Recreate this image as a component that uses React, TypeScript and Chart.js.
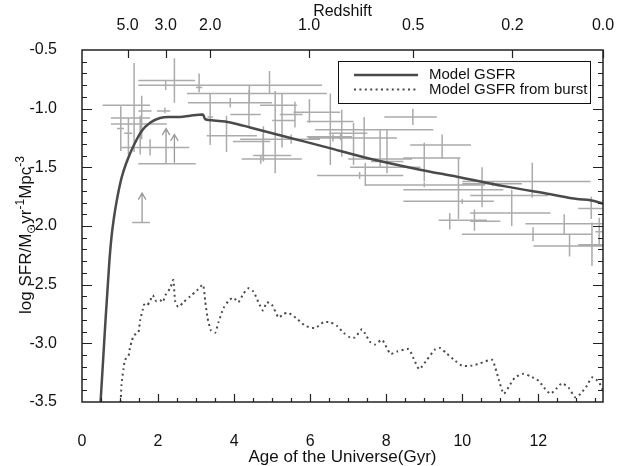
import React, { useEffect, useRef } from "react";
import { Chart, registerables } from "chart.js";

Chart.register(...registerables);

const FONT = "'Liberation Sans', Arial, Helvetica, sans-serif";

// Axis definitions
const ageMin = 0;
const ageMax = 13.7;
const sfrMin = -3.5;
const sfrMax = -0.5;
const ageTicks = [0, 2, 4, 6, 8, 10, 12];
const sfrTicks = [-3.5, -3.0, -2.5, -2.0, -1.5, -1.0, -0.5];
const redshiftLabels = ["5.0", "3.0", "2.0", "1.0", "0.5", "0.2", "0.0"];
const redshiftAges = [1.2, 2.2, 3.37, 5.97, 8.71, 11.32, 13.7];

// Model GSFR (solid)
const modelAge = [0.46, 0.49, 0.60, 0.72, 0.78, 0.84, 0.91, 1.04, 1.18, 1.35, 1.57, 1.79, 2.05, 2.27, 2.58, 2.84, 3.18, 3.24, 3.46, 3.76, 4.07, 4.42, 5.61, 6.44, 7.49, 8.89, 9.86, 11.09, 12.32, 13.02, 13.37, 13.72];
const modelSFR = [-3.62, -3.49, -2.90, -2.30, -2.08, -1.93, -1.79, -1.59, -1.45, -1.32, -1.19, -1.12, -1.08, -1.07, -1.07, -1.06, -1.05, -1.09, -1.10, -1.11, -1.13, -1.16, -1.26, -1.33, -1.42, -1.52, -1.58, -1.66, -1.73, -1.77, -1.78, -1.81];

// Model GSFR from burst (dotted)
const burstAge = [1.01, 1.04, 1.09, 1.13, 1.22, 1.26, 1.31, 1.37, 1.48, 1.53, 1.60, 1.63, 1.70, 1.79, 1.86, 1.95, 2.05, 2.12, 2.21, 2.32, 2.40, 2.45, 2.53, 2.67, 2.84, 3.02, 3.18, 3.24, 3.30, 3.39, 3.50, 3.59, 3.72, 3.85, 3.98, 4.11, 4.24, 4.38, 4.51, 4.64, 4.76, 4.86, 4.99, 5.17, 5.30, 5.43, 5.65, 5.87, 6.13, 6.35, 6.53, 6.70, 6.88, 7.05, 7.18, 7.36, 7.45, 7.58, 7.71, 7.89, 8.11, 8.28, 8.59, 8.72, 8.87, 9.07, 9.29, 9.42, 9.60, 9.82, 9.99, 10.26, 10.47, 10.78, 10.87, 10.96, 11.09, 11.26, 11.39, 11.61, 11.79, 12.01, 12.18, 12.32, 12.49, 12.62, 12.80, 12.97, 13.11, 13.28, 13.41, 13.59, 13.72];
const burstSFR = [-3.55, -3.35, -3.22, -3.14, -3.11, -3.04, -2.98, -2.93, -2.91, -2.80, -2.71, -2.67, -2.68, -2.64, -2.59, -2.64, -2.63, -2.65, -2.58, -2.53, -2.46, -2.64, -2.69, -2.65, -2.60, -2.55, -2.50, -2.64, -2.78, -2.89, -2.91, -2.82, -2.70, -2.64, -2.61, -2.65, -2.58, -2.53, -2.56, -2.65, -2.72, -2.65, -2.67, -2.78, -2.75, -2.74, -2.79, -2.85, -2.87, -2.82, -2.82, -2.85, -2.91, -2.95, -2.95, -2.88, -2.92, -2.99, -3.01, -2.97, -3.09, -3.07, -3.05, -3.13, -3.22, -3.14, -3.05, -3.04, -3.09, -3.15, -3.19, -3.19, -3.17, -3.14, -3.21, -3.31, -3.43, -3.35, -3.29, -3.26, -3.28, -3.32, -3.39, -3.43, -3.38, -3.34, -3.38, -3.46, -3.43, -3.36, -3.29, -3.33, -3.42];

// Observations (with error bars)
const obsAge =   [1.37, 1.02, 1.02, 1.22, 1.53, 1.57, 1.79, 2.43, 2.20, 3.08, 4.93, 4.40, 3.90, 3.37, 3.80, 4.39, 4.76, 4.70, 2.18, 5.08, 5.26, 5.50, 4.77, 5.08, 5.60, 5.98, 6.53, 6.80, 6.60, 6.83, 7.14, 7.42, 7.84, 8.02, 7.30, 7.45, 8.70, 9.47, 9.00, 9.90, 10.00, 11.84, 10.80, 10.52, 11.30, 9.67, 10.32, 12.68, 11.86, 12.82, 13.39, 13.41, 13.60, 9.00];
const obsAgeLo = [0.54, 0.76, 0.92, 1.11, 0.76, 1.48, 1.04, 1.48, 1.48, 3.00, 2.76, 2.76, 2.79, 3.30, 3.28, 3.90, 3.97, 4.20, 1.97, 4.68, 5.00, 4.16, 4.20, 4.50, 5.20, 5.56, 5.91, 5.91, 5.95, 6.50, 6.13, 6.26, 7.00, 7.60, 6.18, 7.05, 7.95, 8.63, 8.45, 8.45, 8.45, 10.00, 10.00, 10.21, 10.21, 9.38, 10.21, 11.66, 9.99, 11.87, 13.05, 13.05, 13.50, 7.45];
const obsAgeHi = [1.79, 1.79, 1.10, 1.32, 2.23, 1.83, 2.82, 2.97, 2.97, 3.16, 6.31, 6.44, 5.00, 3.45, 4.60, 4.70, 4.95, 5.00, 2.32, 5.65, 5.60, 6.26, 5.78, 5.50, 5.80, 6.79, 7.14, 7.10, 7.14, 7.50, 9.24, 8.28, 8.68, 8.45, 8.45, 8.90, 9.33, 10.23, 9.95, 11.08, 10.83, 13.37, 11.57, 12.26, 12.32, 10.65, 11.00, 13.71, 13.41, 13.71, 13.71, 13.71, 13.70, 10.60];
const obsSFR =   [-0.97, -1.08, -1.17, -1.21, -1.13, -1.02, -1.33, -0.76, -0.80, -0.82, -0.80, -0.87, -0.95, -1.07, -1.23, -1.05, -1.28, -1.43, -1.02, -0.97, -1.10, -1.26, -1.43, -1.40, -1.05, -1.03, -1.11, -1.24, -1.25, -1.21, -1.18, -1.25, -1.43, -1.45, -1.57, -1.50, -1.07, -1.31, -1.42, -1.69, -1.79, -1.62, -1.64, -1.74, -1.89, -1.95, -1.96, -1.98, -2.07, -2.17, -1.85, -2.16, -2.05, -1.65];
const obsSFRLo = [-1.37, -1.36, -1.25, -1.39, -1.39, -1.26, -1.40, -0.95, -0.84, -0.86, -0.87, -0.95, -0.99, -1.31, -1.37, -1.16, -1.42, -1.47, -1.04, -1.36, -1.33, -1.30, -1.45, -1.55, -1.16, -1.12, -1.48, -1.27, -1.28, -1.41, -1.48, -1.43, -1.50, -1.55, -1.60, -1.66, -1.14, -1.43, -1.62, -1.94, -1.81, -1.76, -1.66, -1.84, -2.00, -2.03, -2.04, -2.07, -2.13, -2.26, -1.94, -2.34, -2.16, -1.67];
const obsSFRHi = [-0.61, -0.98, -1.12, -1.08, -1.06, -0.89, -1.26, -0.57, -0.76, -0.70, -0.68, -0.80, -0.91, -0.87, -1.06, -0.84, -1.22, -1.40, -0.99, -0.85, -0.87, -1.22, -1.15, -1.31, -0.94, -0.92, -0.87, -1.21, -1.22, -1.01, -1.12, -1.07, -1.18, -1.18, -1.54, -1.46, -1.00, -1.22, -1.29, -1.42, -1.77, -1.46, -1.62, -1.50, -1.69, -1.89, -1.86, -1.90, -2.01, -2.07, -1.75, -1.97, -1.93, -1.63];

// Lower limits (arrows)
const limAge =   [2.21, 2.43, 1.58];
const limAgeLo = [1.48, 2.43, 1.32];
const limAgeHi = [2.99, 2.43, 1.79];
const limSFR =   [-1.47, -1.46, -1.97];
const limSFRTip = [-1.17, -1.22, -1.72];

type P = { x: number; y: number | null };

function buildHBars(): P[] {
  const out: P[] = [];
  obsAge.forEach((_, i) => {
    out.push({ x: obsAgeLo[i], y: obsSFR[i] }, { x: obsAgeHi[i], y: obsSFR[i] }, { x: obsAgeHi[i], y: null });
  });
  limAge.forEach((_, i) => {
    if (limAgeHi[i] > limAgeLo[i]) {
      out.push({ x: limAgeLo[i], y: limSFR[i] }, { x: limAgeHi[i], y: limSFR[i] }, { x: limAgeHi[i], y: null });
    }
  });
  return out;
}

function buildVBars(): P[] {
  const out: P[] = [];
  obsAge.forEach((a, i) => {
    out.push({ x: a, y: obsSFRLo[i] }, { x: a, y: obsSFRHi[i] }, { x: a, y: null });
  });
  return out;
}

function buildArrows(): P[] {
  const out: P[] = [];
  const dx = 0.1;
  const dy = 0.055;
  limAge.forEach((a, i) => {
    out.push({ x: a, y: limSFR[i] }, { x: a, y: limSFRTip[i] }, { x: a, y: null });
    out.push({ x: a - dx, y: limSFRTip[i] - dy }, { x: a, y: limSFRTip[i] }, { x: a + dx, y: limSFRTip[i] - dy }, { x: a, y: null });
  });
  return out;
}

const frameTicks = {
  id: "frameTicks",
  afterDatasetsDraw(chart: any) {
    const { ctx, chartArea: a, scales } = chart;
    const xs = scales.x;
    const ys = scales.y;
    ctx.save();
    ctx.strokeStyle = "#222";
    ctx.lineWidth = 1.2;
    ctx.beginPath();
    for (let k = 1; k < 30; k++) {
      const v = sfrMin + k * 0.1;
      const py = Math.round(ys.getPixelForValue(v)) + 0.5;
      const len = k % 5 === 0 ? 10 : 5;
      ctx.moveTo(a.left, py);
      ctx.lineTo(a.left + len, py);
      ctx.moveTo(a.right, py);
      ctx.lineTo(a.right - len, py);
    }
    for (let k = 1; k * 0.5 < ageMax; k++) {
      const v = k * 0.5;
      const px = Math.round(xs.getPixelForValue(v)) + 0.5;
      const len = k % 4 === 0 ? 8 : 4;
      ctx.moveTo(px, a.bottom);
      ctx.lineTo(px, a.bottom - len);
    }
    redshiftAges.forEach((v) => {
      const px = Math.round(xs.getPixelForValue(v)) + 0.5;
      ctx.moveTo(px, a.top);
      ctx.lineTo(px, a.top + 8);
    });
    ctx.stroke();
    ctx.lineWidth = 1.5;
    ctx.strokeRect(a.left, a.top, a.right - a.left, a.bottom - a.top);
    ctx.restore();
  },
};

const extras = {
  id: "extras",
  afterDraw(chart: any) {
    const { ctx } = chart;
    ctx.save();
    // Y axis title with sub/superscripts
    const parts: [string, number, number][] = [
      ["log SFR/M", 17, 0],
      ["\u2299", 12, 4],
      ["yr", 17, 0],
      ["-1", 12, -7],
      ["Mpc", 17, 0],
      ["-3", 12, -7],
    ];
    let total = 0;
    parts.forEach(([t, s]) => {
      ctx.font = `${s}px ${FONT}`;
      total += ctx.measureText(t).width;
    });
    ctx.translate(31, 235);
    ctx.rotate(-Math.PI / 2);
    ctx.fillStyle = "#111";
    ctx.textBaseline = "alphabetic";
    ctx.textAlign = "left";
    let cx = -total / 2;
    parts.forEach(([t, s, off]) => {
      ctx.font = `${s}px ${FONT}`;
      ctx.fillText(t, cx, off);
      cx += ctx.measureText(t).width;
    });
    ctx.restore();

    // Legend
    ctx.save();
    ctx.strokeStyle = "#111";
    ctx.lineWidth = 1;
    ctx.strokeRect(338.5, 61.5, 252, 42);
    ctx.strokeStyle = "#4a4a4a";
    ctx.lineWidth = 2.5;
    ctx.beginPath();
    ctx.moveTo(354, 75);
    ctx.lineTo(418, 75);
    ctx.stroke();
    ctx.lineWidth = 2;
    ctx.setLineDash([2, 3.4]);
    ctx.beginPath();
    ctx.moveTo(354, 89.5);
    ctx.lineTo(418, 89.5);
    ctx.stroke();
    ctx.setLineDash([]);
    ctx.fillStyle = "#111";
    ctx.font = `15px ${FONT}`;
    ctx.textBaseline = "middle";
    ctx.fillText("Model GSFR", 429, 75);
    ctx.fillText("Model GSFR from burst", 429, 89.5);
    ctx.restore();
  },
};

export default function App() {
  const ref = useRef<HTMLCanvasElement | null>(null);
  useEffect(() => {
    if (!ref.current) return;
    const gray = "#ababab";
    const chart = new Chart(ref.current, {
      type: "line",
      data: {
        datasets: [
          {
            label: "Model GSFR",
            data: modelAge.map((a, i) => ({ x: a, y: modelSFR[i] })),
            borderColor: "#4a4a4a",
            borderWidth: 2.5,
            pointRadius: 0,
            cubicInterpolationMode: "monotone",
            order: 0,
          },
          {
            label: "Model GSFR from burst",
            data: burstAge.map((a, i) => ({ x: a, y: burstSFR[i] })),
            borderColor: "#4a4a4a",
            borderWidth: 2,
            borderDash: [2, 3.4],
            pointRadius: 0,
            tension: 0.2,
            order: 1,
          },
          {
            label: "hbars",
            data: buildHBars() as any,
            borderColor: gray,
            borderWidth: 1.5,
            pointRadius: 0,
            spanGaps: false,
            order: 3,
          },
          {
            label: "vbars",
            data: buildVBars() as any,
            borderColor: gray,
            borderWidth: 1.5,
            pointRadius: 0,
            spanGaps: false,
            order: 3,
          },
          {
            label: "limits",
            data: buildArrows() as any,
            borderColor: "#9a9a9a",
            borderWidth: 1.3,
            pointRadius: 0,
            spanGaps: false,
            order: 3,
          },
        ],
      },
      options: {
        animation: false,
        responsive: false,
        layout: { padding: { left: 0, right: 19, top: 0, bottom: 0 } },
        plugins: { legend: { display: false }, tooltip: { enabled: false } },
        scales: {
          x: {
            type: "linear",
            position: "bottom",
            min: ageMin,
            max: ageMax,
            afterBuildTicks: (s: any) => {
              s.ticks = ageTicks.map((v) => ({ value: v }));
            },
            afterFit: (s: any) => {
              s.height = 64;
            },
            ticks: {
              autoSkip: false,
              maxRotation: 0,
              padding: 22,
              color: "#111",
              font: { family: FONT, size: 16 },
              callback: (v: any) => String(v),
            },
            grid: { display: false },
            border: { display: false },
            title: {
              display: true,
              text: "Age of the Universe(Gyr)",
              color: "#111",
              font: { family: FONT, size: 17, lineHeight: 1 },
              padding: 0,
            },
          },
          x2: {
            type: "linear",
            position: "top",
            min: ageMin,
            max: ageMax,
            afterBuildTicks: (s: any) => {
              s.ticks = redshiftAges.map((v) => ({ value: v }));
            },
            afterFit: (s: any) => {
              s.height = 50;
            },
            ticks: {
              autoSkip: false,
              maxRotation: 0,
              padding: 7,
              color: "#111",
              font: { family: FONT, size: 16 },
              callback: (_v: any, i: number) => redshiftLabels[i],
            },
            grid: { display: false },
            border: { display: false },
            title: {
              display: true,
              text: "Redshift",
              color: "#111",
              font: { family: FONT, size: 16 },
              padding: { top: 2, bottom: 0 },
            },
          },
          y: {
            type: "linear",
            position: "left",
            min: sfrMin,
            max: sfrMax,
            afterBuildTicks: (s: any) => {
              s.ticks = sfrTicks.map((v) => ({ value: v }));
            },
            afterFit: (s: any) => {
              s.width = 82;
            },
            ticks: {
              padding: 17,
              color: "#111",
              font: { family: FONT, size: 16 },
              callback: (v: any) => Number(v).toFixed(1),
            },
            grid: { display: false },
            border: { display: false },
          },
        },
      } as any,
      plugins: [frameTicks, extras],
    });
    return () => chart.destroy();
  }, []);
  return (
    <canvas
      ref={ref}
      width={622}
      height={466}
      style={{ position: "fixed", left: 0, top: 0, width: 622, height: 466, display: "block", background: "#fff" }}
    />
  );
}
